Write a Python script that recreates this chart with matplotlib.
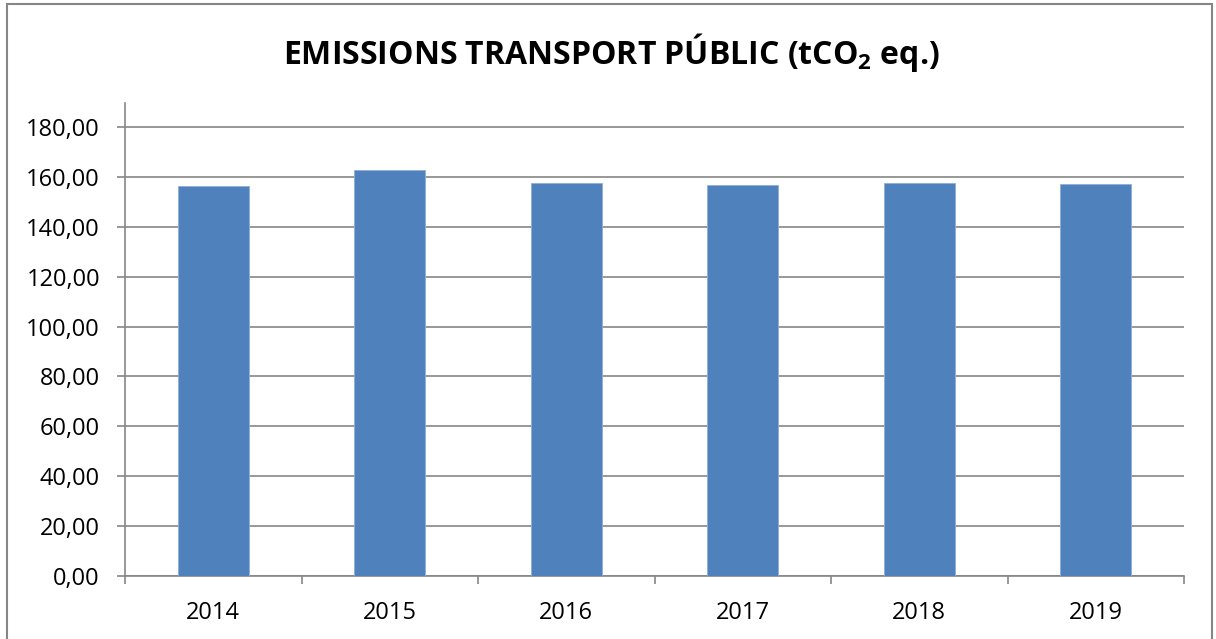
import numpy as np
import matplotlib
matplotlib.use("Agg")
import matplotlib.pyplot as plt
from matplotlib.patches import Rectangle

# dades llegides del gràfic
anys = ['2014', '2015', '2016', '2017', '2018', '2019']
emissions = [156.2, 162.7, 157.5, 156.6, 157.5, 157.2]
ticks_y = [0, 20, 40, 60, 80, 100, 120, 140, 160, 180]

plt.rcParams['font.family'] = ['Open Sans', 'DejaVu Sans']
plt.rcParams['mathtext.fontset'] = 'custom'
plt.rcParams['mathtext.bf'] = 'Open Sans:bold'
plt.rcParams['mathtext.rm'] = 'Open Sans'

gris = '#868686'
blau = '#4F81BD'

fig = plt.figure(figsize=(12.16, 6.39), dpi=100)
ax = fig.add_axes([125/1216, 1 - 576/639, (1184-125)/1216, (576-103)/639])

x = np.arange(len(anys))
ax.bar(x, emissions, width=0.4, color=blau, edgecolor='#8EAEDB', linewidth=0.6, zorder=3)

ax.set_xlim(-0.5, len(anys) - 0.5)
ax.set_ylim(0, 189.6)
ax.set_yticks(ticks_y)
ax.set_yticklabels([f"{v:.2f}".replace('.', ',') for v in ticks_y])
ax.set_xticks(x)
ax.set_xticklabels(anys)
ax.set_xticks(np.arange(-0.5, len(anys)), minor=True)

ax.grid(axis='y', color=gris, linewidth=1.2, zorder=0)
for s in ['top', 'right']:
    ax.spines[s].set_visible(False)
for s in ['left', 'bottom']:
    ax.spines[s].set_color(gris)
    ax.spines[s].set_linewidth(1.2)

ax.tick_params(axis='y', length=6, width=1.2, color=gris, pad=12, labelsize=17)
ax.tick_params(axis='x', which='major', length=0, pad=18, labelsize=17)
ax.tick_params(axis='x', which='minor', length=6, width=1.2, color=gris)

fig.text(611/1216, 1 - 52/639, r'EMISSIONS TRANSPORT PÚBLIC (tCO$_\mathbf{2}$ eq.)',
         ha='center', va='center', fontsize=23, fontweight='bold')

# marc exterior
fig.patches.append(Rectangle((7/1216, -0.01), (1212-7)/1216, 1.01 - 4/639,
                             transform=fig.transFigure, fill=False,
                             edgecolor=gris, linewidth=1.5))

fig.savefig('out.png', dpi=100)
